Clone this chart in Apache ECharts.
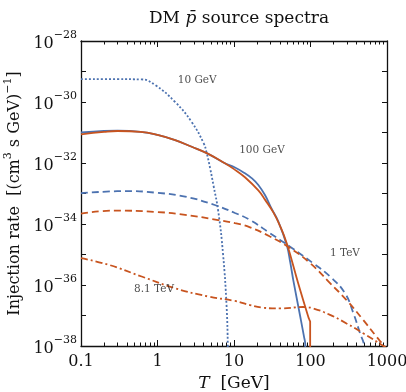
<!DOCTYPE html>
<html>
<head>
<meta charset="utf-8">
<script src="https://cdn.jsdelivr.net/npm/echarts@6/dist/echarts.min.js"></script>
<style>
  html, body { margin: 0; padding: 0; background: #fff; }
  #chart { width: 406px; height: 392px; }
</style>
</head>
<body>
<div id="chart"></div>
<script>
// T in GeV, injection rate in (cm^3 s GeV)^-1
var t10GeV = [0.1, 0.3, 0.62, 0.93, 1.7, 2.8, 4.0, 4.4, 4.9, 5.4, 6.2, 7.2, 8.0, 8.3, 8.5]
var rate10GeV = [5.6e-30, 5.6e-30, 5.5e-30, 3.6e-30, 1.0e-30, 2.2e-31, 4.5e-32, 2.1e-32, 6.3e-33, 1.8e-33, 2.8e-34, 1.0e-35, 2.0e-37, 1.0e-38, 1e-40]

var t100GeVBlue = [0.1, 0.2, 0.3, 0.6, 1.0, 1.7, 2.8, 4.4, 7.6, 10.3, 13.9, 17, 20.8, 25.4, 31, 38, 49, 54.3, 59.7, 73, 82, 85.5, 87]
var rate100GeVBlue = [1.0e-31, 1.12e-31, 1.15e-31, 1.05e-31, 8.3e-32, 5.6e-32, 3.4e-32, 2.1e-32, 9.8e-33, 7.1e-33, 4.6e-33, 3.2e-33, 1.9e-33, 8.9e-34, 3.2e-34, 1.2e-34, 2.0e-35, 5.6e-36, 1.4e-36, 1.0e-37, 2.1e-38, 1.1e-38, 1e-40]

var t100GeVRed = [0.1, 0.2, 0.3, 0.6, 1.0, 1.7, 2.8, 4.4, 7.6, 10, 13.9, 20.8, 25.4, 32.7, 39.8, 49, 69, 93.5, 97, 99, 99.01]
var rate100GeVRed = [8.7e-32, 1.05e-31, 1.12e-31, 1.05e-31, 8.3e-32, 5.6e-32, 3.4e-32, 2.1e-32, 9.8e-33, 6.3e-33, 3.4e-33, 1.26e-33, 6.3e-34, 2.4e-34, 8.9e-35, 2.3e-35, 1.15e-36, 9.1e-38, 7.1e-38, 6.3e-38, 1e-40]

var t1TeVBlue = [0.1, 0.4, 0.93, 2.3, 5.6, 10.3, 16.2, 29.5, 54, 109, 180, 282, 363, 444, 500, 520]
var rate1TeVBlue = [1.02e-33, 1.2e-33, 1.07e-33, 7.9e-34, 4.2e-34, 2.3e-34, 1.35e-34, 5.0e-35, 1.8e-35, 5.1e-36, 1.9e-36, 5.4e-37, 1.2e-37, 2.6e-38, 1.0e-38, 1e-40]

var t1TeVRed = [0.1, 0.28, 0.93, 2.3, 6.2, 10.3, 16.2, 29.5, 51, 100, 180, 296, 490, 730, 915, 1000]
var rate1TeVRed = [2.2e-34, 2.75e-34, 2.5e-34, 2.0e-34, 1.35e-34, 1.07e-34, 7.8e-35, 3.9e-35, 1.8e-35, 5.1e-36, 1.15e-36, 3.2e-37, 7.1e-38, 2.0e-38, 1.0e-38, 7e-39]

var t8TeV = [0.1, 0.23, 0.62, 1.7, 4.6, 10.3, 16.2, 24, 40, 80, 109, 180, 296, 490, 900, 1000]
var rate8TeV = [7.6e-36, 4.6e-36, 1.9e-36, 7.8e-37, 4.2e-37, 3.0e-37, 2.2e-37, 1.8e-37, 1.7e-37, 1.9e-37, 1.7e-37, 1.05e-37, 5.5e-38, 2.6e-38, 1.0e-38, 8e-39]

var labelTexts = ['10 GeV', '100 GeV', '1 TeV', '8.1 TeV']
var labelT = [3.3, 23.2, 282, 0.9]
var labelRate = [5.2e-30, 2.7e-32, 1.1e-35, 7.4e-37]

var xMajorTicks = [0.1, 1, 10, 100, 1000]
var xMinorTicks = [0.2, 0.3, 0.4, 0.5, 0.6, 0.7, 0.8, 0.9,
  2, 3, 4, 5, 6, 7, 8, 9, 20, 30, 40, 50, 60, 70, 80, 90,
  200, 300, 400, 500, 600, 700, 800, 900]

var BLUE = '#4c72b0'
var RED = '#c8541f'
var SERIF = 'DejaVu Serif'

// both axes are decades: plot log10 of the values on value axes
var lg = function (v) { return Math.log(v) / Math.LN10 }

function pairs(xs, ys) {
  return xs.map(function (x, i) { return [lg(x), lg(ys[i])] })
}

function curve(xs, ys, color, type) {
  return {
    type: 'line',
    data: pairs(xs, ys),
    showSymbol: false,
    smooth: 0.45,
    clip: true,
    lineStyle: { color: color, width: 1.8, type: type },
    z: 3
  }
}

function xAxisBase(pos, minor) {
  return {
    type: 'value',
    min: -1,
    max: 3,
    position: pos,
    splitLine: { show: false },
    axisLine: { show: !minor, onZero: false, lineStyle: { color: '#111', width: 1.3 } },
    axisTick: {
      inside: true,
      length: minor ? 3.5 : 6,
      customValues: (minor ? xMinorTicks : xMajorTicks).map(lg),
      lineStyle: { color: '#111', width: 1 }
    },
    axisLabel: { show: false }
  }
}

var chart = echarts.init(document.getElementById('chart'), null, { renderer: 'canvas' })

var bottomMajor = xAxisBase('bottom', false)
bottomMajor.axisLabel = {
  show: true,
  margin: 8,
  customValues: xMajorTicks.map(lg),
  fontFamily: SERIF,
  fontSize: 16,
  color: '#111',
  formatter: function (v) {
    var i = Math.round(v) + 1
    return String(xMajorTicks[i])
  }
}
bottomMajor.name = '{i|T}{n|  [GeV]}'
bottomMajor.nameLocation = 'middle'
bottomMajor.nameGap = 26
bottomMajor.nameTextStyle = {
  rich: {
    i: { fontFamily: SERIF, fontSize: 17, fontStyle: 'italic', color: '#111' },
    n: { fontFamily: SERIF, fontSize: 17, color: '#111' }
  }
}

function yAxisBase(pos) {
  return {
    type: 'value',
    min: -38,
    max: -28,
    interval: 1,
    position: pos,
    splitLine: { show: false },
    axisLine: { show: true, onZero: false, lineStyle: { color: '#111', width: 1.3 } },
    axisTick: { inside: true, length: 5, lineStyle: { color: '#111', width: 1 } },
    axisLabel: { show: false }
  }
}

var yLeft = yAxisBase('left')
yLeft.axisLabel = {
  show: true,
  margin: 4,
  formatter: function (v) {
    var e = Math.round(v)
    if (e % 2 !== 0) return ''
    return '{b|10}{s|\u2212' + (-e) + '}'
  },
  rich: {
    b: { fontFamily: SERIF, fontSize: 16, lineHeight: 22, verticalAlign: 'bottom', color: '#111' },
    s: { fontFamily: SERIF, fontSize: 11, lineHeight: 11, verticalAlign: 'top', color: '#111' }
  }
}
yLeft.name = '{n|Injection rate  [(cm}{s|3}{n| s GeV)}{s|\u22121}{n|]}'
yLeft.nameLocation = 'middle'
yLeft.nameGap = 54
yLeft.nameTextStyle = {
  rich: {
    n: { fontFamily: SERIF, fontSize: 16, lineHeight: 20, verticalAlign: 'bottom', color: '#111' },
    s: { fontFamily: SERIF, fontSize: 11, lineHeight: 11, verticalAlign: 'top', color: '#111' }
  }
}

var labelSeries = {
  type: 'scatter',
  data: labelTexts.map(function (s, i) { return { value: [lg(labelT[i]), lg(labelRate[i])], name: s } }),
  symbolSize: 0,
  silent: true,
  label: {
    show: true,
    position: 'inside',
    formatter: '{b}',
    fontFamily: SERIF,
    fontSize: 10.5,
    color: '#222'
  },
  z: 5
}

chart.setOption({
  backgroundColor: '#fff',
  animation: false,
  title: {
    text: '{n|DM }{i|p\u0304}{n| source spectra}',
    left: 234,
    top: 5,
    textAlign: 'center',
    textStyle: {
      rich: {
        n: { fontFamily: SERIF, fontSize: 17, fontWeight: 'normal', color: '#111' },
        i: { fontFamily: SERIF, fontSize: 17, fontWeight: 'normal', fontStyle: 'italic', color: '#111' }
      }
    }
  },
  grid: { left: 81, right: 19, top: 41, bottom: 46, containLabel: false, outerBoundsMode: 'none' },
  xAxis: [bottomMajor, xAxisBase('bottom', true), xAxisBase('top', false), xAxisBase('top', true)],
  yAxis: [yLeft, yAxisBase('right')],
  series: [
    curve(t10GeV, rate10GeV, BLUE, [2, 2]),
    curve(t100GeVBlue, rate100GeVBlue, BLUE, 'solid'),
    curve(t100GeVRed, rate100GeVRed, RED, 'solid'),
    curve(t1TeVBlue, rate1TeVBlue, BLUE, [7, 4]),
    curve(t1TeVRed, rate1TeVRed, RED, [7, 4]),
    curve(t8TeV, rate8TeV, RED, [7, 3, 2, 3]),
    labelSeries
  ]
})
</script>
</body>
</html>
